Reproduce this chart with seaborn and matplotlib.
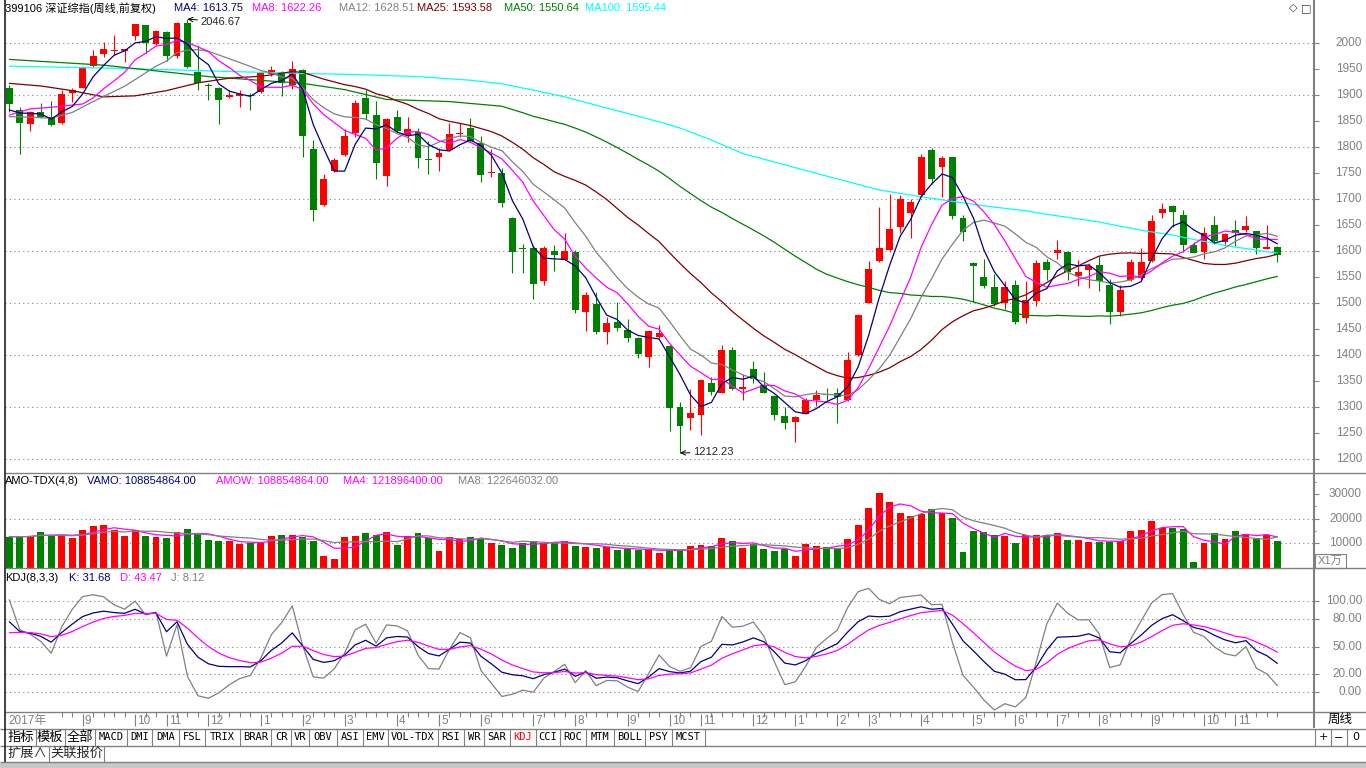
import numpy as np
import pandas as pd
import matplotlib
matplotlib.use("Agg")
import matplotlib.pyplot as plt
import seaborn as sns
from matplotlib.patches import Rectangle
from matplotlib.transforms import blended_transform_factory

# weekly bars of 399106 (index 0 = Jul 2017)
opens = [1915, 1872, 1844, 1867, 1858, 1846, 1904, 1915, 1956, 1979,
         1986, 1985, 2015, 2035, 1999, 2022, 1976, 2040, 1945, 1919,
         1915, 1896, 1899, 1901, 1906, 1941, 1945, 1920, 1949, 1797,
         1690, 1755, 1785, 1827, 1895, 1862, 1744, 1859, 1824, 1830,
         1778, 1782, 1794, 1825, 1838, 1809, 1750, 1750, 1665, 1607,
         1606, 1542, 1601, 1584, 1599, 1484, 1499, 1444, 1465, 1449,
         1434, 1396, 1436, 1417, 1300, 1279, 1285, 1347, 1328, 1410,
         1335, 1373, 1343, 1322, 1283, 1272, 1288, 1314, 1326, 1327,
         1315, 1401, 1501, 1581, 1602, 1647, 1673, 1708, 1795, 1763,
         1781, 1665, 1578, 1550, 1531, 1500, 1536, 1471, 1505, 1579,
         1596, 1599, 1553, 1565, 1574, 1535, 1484, 1544, 1549, 1582,
         1673, 1687, 1670, 1612, 1599, 1651, 1617, 1641, 1641, 1639,
         1605, 1609]
highs = [1920, 1877, 1870, 1885, 1890, 1910, 1915, 1956, 1987, 2002,
         2016, 1990, 2038, 2036, 2025, 2023, 2041, 2046.67, 1997, 1923,
         1916, 1911, 1910, 1905, 1944, 1956, 1946, 1966, 1951, 1814,
         1749, 1779, 1836, 1891, 1911, 1889, 1856, 1871, 1859, 1838,
         1812, 1799, 1846, 1847, 1857, 1821, 1796, 1760, 1666, 1615,
         1612, 1610, 1612, 1635, 1602, 1521, 1522, 1473, 1502, 1470,
         1436, 1448, 1458, 1420, 1310, 1336, 1354, 1359, 1420, 1416,
         1365, 1389, 1367, 1323, 1301, 1284, 1317, 1333, 1338, 1337,
         1406, 1479, 1581, 1686, 1711, 1708, 1701, 1788, 1799, 1783,
         1782, 1670, 1580, 1586, 1556, 1542, 1545, 1543, 1583, 1585,
         1622, 1601, 1583, 1577, 1591, 1547, 1536, 1586, 1607, 1670,
         1692, 1690, 1680, 1618, 1646, 1667, 1635, 1661, 1667, 1640,
         1651, 1610]
lows = [1868, 1787, 1832, 1856, 1841, 1845, 1888, 1914, 1955, 1974,
        1977, 1965, 2006, 1981, 1996, 1966, 1971, 1952, 1910, 1891,
        1845, 1894, 1878, 1872, 1905, 1937, 1899, 1913, 1782, 1659,
        1688, 1752, 1783, 1819, 1855, 1740, 1726, 1829, 1811, 1761,
        1748, 1755, 1792, 1819, 1810, 1734, 1743, 1686, 1558, 1558,
        1508, 1535, 1563, 1583, 1482, 1447, 1441, 1422, 1447, 1426,
        1395, 1378, 1433, 1255, 1212.23, 1256, 1247, 1324, 1327, 1333,
        1314, 1347, 1327, 1276, 1258, 1234, 1287, 1303, 1314, 1269,
        1313, 1399, 1500, 1580, 1598, 1635, 1625, 1707, 1730, 1704,
        1662, 1619, 1503, 1529, 1494, 1490, 1460, 1463, 1494, 1544,
        1586, 1544, 1534, 1529, 1524, 1460, 1476, 1542, 1545, 1580,
        1665, 1647, 1599, 1596, 1585, 1615, 1612, 1611, 1638, 1595,
        1604, 1580]
closes = [1883, 1847, 1868, 1859, 1843, 1902, 1910, 1955, 1976, 1989,
          1988, 1989, 2037, 2001, 2024, 1976, 2040, 1955, 1924, 1917,
          1891, 1900, 1902, 1899, 1942, 1949, 1923, 1950, 1822, 1680,
          1739, 1776, 1822, 1886, 1864, 1769, 1854, 1831, 1835, 1780,
          1776, 1790, 1826, 1828, 1812, 1747, 1752, 1692, 1599, 1605,
          1538, 1606, 1593, 1601, 1487, 1516, 1444, 1463, 1453, 1434,
          1403, 1447, 1442, 1298, 1265, 1290, 1353, 1330, 1410, 1336,
          1340, 1354, 1328, 1285, 1270, 1282, 1314, 1324, 1324, 1319,
          1391, 1478, 1566, 1606, 1642, 1701, 1695, 1781, 1740, 1779,
          1667, 1638, 1572, 1533, 1499, 1532, 1465, 1506, 1577, 1565,
          1602, 1560, 1561, 1572, 1543, 1483, 1526, 1579, 1579, 1658,
          1681, 1676, 1612, 1597, 1636, 1619, 1633, 1636, 1649, 1607,
          1609, 1593]
# turnover, x1万
amount = [12700, 12600, 13000, 14600, 13000, 13200, 12300, 15400, 17000, 17400,
          15400, 13100, 15400, 13000, 12400, 12000, 14600, 15700, 13600, 11300,
          10900, 10900, 9700, 10300, 10300, 13000, 13400, 13400, 12700, 10900,
          4900, 3600, 12600, 13000, 14300, 13200, 14600, 9300, 13000, 14300,
          12300, 6900, 12700, 11600, 12700, 11600, 10300, 9300, 8200, 10300,
          10900, 10000, 10400, 11100, 9000, 8600, 8200, 8600, 7300, 7600,
          7300, 7700, 6200, 7300, 7200, 8900, 9300, 8900, 12000, 10900,
          8000, 9700, 7700, 6900, 7600, 4900, 9700, 8900, 8400, 8200,
          11700, 17400, 24200, 30400, 26700, 22400, 21100, 21900, 23900, 22100,
          20100, 6600, 15000, 14600, 13400, 13100, 10300, 13400, 13400, 13400,
          14300, 11300, 11300, 10700, 10700, 10700, 10900, 15000, 15400, 19000,
          16100, 16300, 15700, 2600, 10300, 14000, 11700, 15000, 13800, 12000,
          13400, 10900]

# moving-average values before enough bars exist on screen
ma4_lead_idx, ma4_lead = [0, 1], [1872, 1866]
ma8_lead_idx, ma8_lead = [0, 2, 4], [1862, 1874, 1877]
ma12_lead_idx, ma12_lead = [0, 2, 4, 6, 8], [1859, 1858, 1856, 1867, 1888]
ma25_lead_idx = [0, 3, 6, 9, 12, 15, 18, 21]
ma25_lead = [1923, 1918, 1909, 1897, 1899, 1909, 1924, 1933]
ma50_lead_idx = [0, 9, 19, 28, 32, 36, 42, 47]
ma50_lead = [1969, 1958, 1936, 1923, 1911, 1892, 1888, 1879]
ma100_lead_idx = [0, 10, 19, 28, 33, 39, 44, 47, 50, 53, 56, 59, 62, 64,
                  67, 70, 77, 83, 87, 91, 94, 97]
ma100_lead = [1956, 1952, 1947, 1942, 1940, 1936, 1929, 1922, 1910, 1897,
              1881, 1865, 1849, 1837, 1814, 1788, 1750, 1718, 1705, 1693,
              1685, 1678]
kdj_start = (77, 65)

month_idx = [7, 12, 15, 19, 24, 28, 32, 37, 41, 45, 50, 54, 59, 63, 66, 71,
             75, 79, 82, 87, 92, 96, 100, 104, 109, 114, 117]
month_lbl = ["9", "10", "11", "12", "1", "2", "3", "4", "5", "6", "7", "8", "9",
             "10", "11", "12", "1", "2", "3", "4", "5", "6", "7", "8", "9", "10", "11"]

tabs = ["指标", "模板", "全部", "MACD", "DMI", "DMA", "FSL", "TRIX", "BRAR", "CR",
        "VR", "OBV", "ASI", "EMV", "VOL-TDX", "RSI", "WR", "SAR", "KDJ", "CCI",
        "ROC", "MTM", "BOLL", "PSY", "MCST"]
tab_edges = [5, 35.7, 64.7, 94.6, 127, 151.8, 178.6, 205, 240, 271, 291, 309,
             337, 362.5, 388, 438, 464, 483.5, 510, 535.7, 560, 585.7, 613.8,
             645, 672, 705]

sns.set_style("white")
plt.rcParams["font.family"] = ["Liberation Sans", "Noto Sans CJK SC", "DejaVu Sans"]
plt.rcParams["axes.unicode_minus"] = False

RED, GREEN, GRAY = "#ff0000", "#008000", "#808080"
NAVY, MAG, MAROON, CYAN = "#000080", "#ff00ff", "#800000", "#00ffff"
DOT = (0, (1, 3))
FS = 8.5
CAP = 8

n = len(closes)
idx = np.arange(n)
df = pd.DataFrame({"open": opens, "high": highs, "low": lows,
                   "close": closes, "amo": amount}, index=idx)


def joined(lead_idx, lead_val, w):
    full = df["close"].rolling(w).mean()
    xs = list(lead_idx) + list(range(w - 1, n))
    ys = list(lead_val) + list(full.iloc[w - 1:])
    return np.array(xs, float), np.array(ys, float)


mas = [
    (joined(ma100_lead_idx, ma100_lead, 100), CYAN),
    (joined(ma50_lead_idx, ma50_lead, 50), GREEN),
    (joined(ma25_lead_idx, ma25_lead, 25), MAROON),
    (joined(ma12_lead_idx, ma12_lead, 12), GRAY),
    (joined(ma8_lead_idx, ma8_lead, 8), MAG),
    (joined(ma4_lead_idx, ma4_lead, 4), NAVY),
]

# KDJ(8,3,3)
llv = df["low"].rolling(8, min_periods=1).min()
hhv = df["high"].rolling(8, min_periods=1).max()
rsv = ((df["close"] - llv) / (hhv - llv) * 100).to_numpy()
k = np.empty(n)
d = np.empty(n)
k[0], d[0] = kdj_start
for i in range(1, n):
    k[i] = (rsv[i] + 2 * k[i - 1]) / 3
    d[i] = (k[i] + 2 * d[i - 1]) / 3
j = 3 * k - 2 * d

W, H = 1366, 768
fig = plt.figure(figsize=(W / 100, H / 100), dpi=100)
fig.patch.set_facecolor("white")


def rect(x0, y0, x1, y1):
    return [x0 / W, 1 - y1 / H, (x1 - x0) / W, (y1 - y0) / H]


XL = ((5 - 9.3) / 10.48, (1313 - 9.3) / 10.48)
ax_p = fig.add_axes(rect(5, 0, 1313, 473))
ax_v = fig.add_axes(rect(5, 473, 1313, 568))
ax_k = fig.add_axes(rect(5, 568, 1313, 712))
ax_d = fig.add_axes(rect(5, 712, 1313, 728))


def line(ax, xs, ys, c, lw=0.9, z=4):
    sns.lineplot(x=np.asarray(xs, float), y=np.asarray(ys, float), ax=ax, color=c,
                 lw=lw, estimator=None, sort=False, legend=False, zorder=z)


def right_labels(ax, vals, labels):
    tr = blended_transform_factory(fig.transFigure, ax.transData)
    for v, s in zip(vals, labels):
        ax.text(1362 / W, v, s, transform=tr, ha="right", va="center",
                color=GRAY, fontsize=FS, clip_on=False)


for ax in (ax_p, ax_v, ax_k):
    ax.set_xlim(*XL)
    ax.set_xticks([])
    ax.set_facecolor("white")
    for s in ax.spines.values():
        s.set_visible(False)
    ax.tick_params(axis="y", which="both", left=False, right=True, labelleft=False,
                   labelright=False, direction="out", length=4, width=0.8, color=GRAY)

# ---- price panel ----
ax_p.set_ylim(1173.7, 2083.3)
for v in range(1200, 2001, 100):
    ax_p.axhline(v, color=GRAY, lw=0.8, ls=DOT, zorder=0)
up = (df["close"] >= df["open"]).to_numpy()
cols = np.where(up, RED, GREEN)
ax_p.vlines(idx, df["low"], df["high"], colors=cols, lw=0.8, zorder=2)
body = (df["close"] - df["open"]).abs().clip(lower=1.6)
ax_p.bar(idx, body, bottom=np.minimum(df["open"], df["close"]), width=0.66,
         color=cols, lw=0, zorder=3)
for (xs, ys), c in mas:
    line(ax_p, xs, ys, c)
ax_p.set_xlabel("")
ax_p.set_ylabel("")
pt = list(range(1200, 2001, 50))
ax_p.set_yticks(pt)
right_labels(ax_p, pt, [str(v) for v in pt])
ax_p.annotate("2046.67", xy=(17, 2046.67), xytext=(9.5, -2), textcoords="offset points",
              ha="left", va="center", fontsize=CAP,
              arrowprops=dict(arrowstyle="->", color="black", lw=0.7, shrinkA=0, shrinkB=0))
ax_p.annotate("1212.23", xy=(64, 1212.23), xytext=(9.5, 0.5), textcoords="offset points",
              ha="left", va="center", fontsize=CAP,
              arrowprops=dict(arrowstyle="->", color="black", lw=0.7, shrinkA=0, shrinkB=0))

# ---- amount panel ----
ax_v.set_ylim(0, 38462)
for v in (10000, 20000):
    ax_v.axhline(v, color=GRAY, lw=0.8, ls=DOT, zorder=0)
ax_v.bar(idx, df["amo"], width=0.66, color=cols, lw=0, zorder=2)
line(ax_v, idx, df["amo"].rolling(4, min_periods=1).mean(), MAG)
line(ax_v, idx, df["amo"].rolling(8, min_periods=1).mean(), GRAY)
ax_v.set_xlabel("")
ax_v.set_ylabel("")
ax_v.set_yticks([10000, 20000, 30000])
ax_v.set_yticks([5000, 15000, 25000, 35000], minor=True)
ax_v.tick_params(axis="y", which="minor", length=2.5)
right_labels(ax_v, [10000, 20000, 30000], ["10000", "20000", "30000"])

# ---- KDJ panel ----
ax_k.set_ylim(-21.5, 135.7)
kt = [0, 20, 50, 80, 100]
for v in kt:
    ax_k.axhline(v, color=GRAY, lw=0.8, ls=DOT, zorder=0)
line(ax_k, idx, j, GRAY, z=3)
line(ax_k, idx, k, NAVY, z=4)
line(ax_k, idx, d, MAG, z=5)
ax_k.set_xlabel("")
ax_k.set_ylabel("")
ax_k.set_yticks(kt)
right_labels(ax_k, kt, ["%.2f" % v for v in kt])

# ---- date strip ----
ax_d.set_xlim(*XL)
ax_d.set_ylim(1, 0)
ax_d.axis("off")
weeks = [i for i in idx if i not in month_idx and i > 4]
ax_d.vlines(weeks, 0.0, 0.3, color=GRAY, lw=0.8)
ax_d.vlines(month_idx, 0.15, 0.85, color=GRAY, lw=0.8)
for i, s in zip(month_idx, month_lbl):
    ax_d.text(i + 0.2, 0.55, s, ha="left", va="center", color=GRAY, fontsize=FS)
ax_d.text(-0.12, 0.55, "2017年", ha="left", va="center", color=GRAY, fontsize=FS)

# ---- window chrome and captions ----
ui = fig.add_axes([0, 0, 1, 1], zorder=10)
ui.set_xlim(0, W)
ui.set_ylim(H, 0)
ui.axis("off")
ui.hlines([473, 568, 712], 5, W, color=GRAY, lw=1)
ui.hlines([728.5, 746, 762], 0, W, color=GRAY, lw=1)
ui.add_patch(Rectangle((0, 763), W, 5, color="#c8c8c8", lw=0))
ui.vlines(1313.5, 0, 728, color=GRAY, lw=1.5)
ui.vlines(4.5, 0, 762, color="#202020", lw=1.2)

caps = [("399106 深证综指(周线,前复权)", 5.4, "black"), ("MA4: 1613.75", 174, NAVY),
        ("MA8: 1622.26", 252, MAG), ("MA12: 1628.51", 339, GRAY),
        ("MA25: 1593.58", 417.4, MAROON), ("MA50: 1550.64", 503.6, GREEN),
        ("MA100: 1595.44", 584.8, CYAN)]
for s, x, c in caps:
    ui.text(x, 8, s, color=c, fontsize=CAP, ha="left", va="center")
caps = [("AMO-TDX(4,8)", 5.4, "black"), ("VAMO: 108854864.00", 87, NAVY),
        ("AMOW: 108854864.00", 215.6, MAG), ("MA4: 121896400.00", 343, MAG),
        ("MA8: 122646032.00", 457.6, GRAY)]
for s, x, c in caps:
    ui.text(x, 481.5, s, color=c, fontsize=CAP, ha="left", va="center")
caps = [("KDJ(8,3,3)", 5.4, "black"), ("K: 31.68", 69, NAVY),
        ("D: 43.47", 119.6, MAG), ("J: 8.12", 171, GRAY)]
for s, x, c in caps:
    ui.text(x, 578, s, color=c, fontsize=CAP, ha="left", va="center")

ui.text(1293, 8, "◇", fontsize=8, ha="center", va="center", color="#404040", family="DejaVu Sans")
ui.text(1306, 8, "□", fontsize=8, ha="center", va="center", color="#404040", family="DejaVu Sans")

ui.add_patch(Rectangle((1315, 554), 31, 14, fill=False, ec=GRAY, lw=0.8))
ui.text(1330.5, 561, "X1万", fontsize=8, ha="center", va="center", color=GRAY)
ui.text(1340, 720, "周线", fontsize=9, ha="center", va="center", color="black")

for t, name in enumerate(tabs):
    x0, x1 = tab_edges[t], tab_edges[t + 1]
    ui.vlines(x1, 729, 746, color=GRAY, lw=0.8)
    cjk = not name.isascii()
    ui.text((x0 + x1) / 2, 737.5, name, ha="center", va="center",
            color=RED if name == "KDJ" else "black",
            fontsize=9.5 if cjk else 7.5,
            family=["Noto Sans CJK SC"] if cjk else ["DejaVu Sans Mono"])
for x in (1315, 1331, 1347):
    ui.vlines(x, 729, 746, color=GRAY, lw=0.8)
for x, s in ((1323, "+"), (1339, "−"), (1356, "0")):
    ui.text(x, 737.5, s, ha="center", va="center", fontsize=8, color="black",
            family="DejaVu Sans")
ui.vlines([49, 104], 746, 762, color=GRAY, lw=0.8)
ui.text(27, 754, "扩展∧", ha="center", va="center", fontsize=9.5)
ui.text(76.5, 754, "关联报价", ha="center", va="center", fontsize=9.5)

fig.savefig("out.png", dpi=100, facecolor="white")
